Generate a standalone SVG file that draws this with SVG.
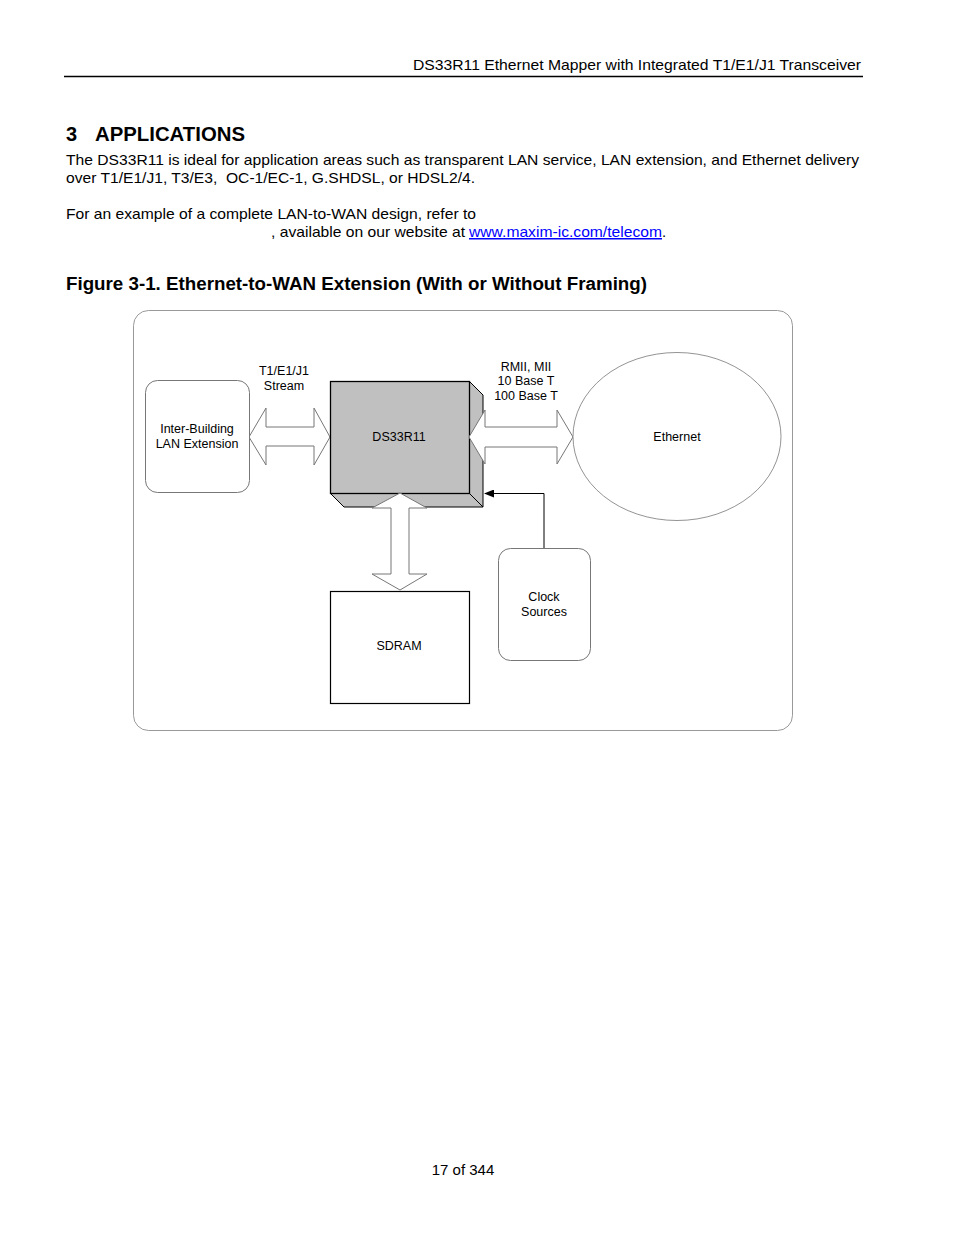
<svg xmlns="http://www.w3.org/2000/svg" width="954" height="1235" viewBox="0 0 954 1235">
<style>
.pg{font-family:"Liberation Sans",Arial,sans-serif;fill:#000}
.lb{font-family:"Liberation Sans",Arial,sans-serif;font-size:12.5px;fill:#000;text-anchor:middle}
.rnd{fill:#fff;stroke:#777;stroke-width:1}
.arw{fill:#fff;stroke:#777;stroke-width:1}
</style>
<defs>
<marker id="ah" markerWidth="10" markerHeight="8" refX="9" refY="4" orient="auto" markerUnits="userSpaceOnUse">
<path d="M0,0 L10,4 L0,8 Z" fill="#000"/>
</marker>
</defs>
<rect width="954" height="1235" fill="#fff"/>
<text class="pg" x="413" y="70" font-size="15" textLength="448" lengthAdjust="spacingAndGlyphs">DS33R11 Ethernet Mapper with Integrated T1/E1/J1 Transceiver</text>
<line x1="64" y1="76.5" x2="863" y2="76.5" stroke="#000" stroke-width="1.5"/>
<text class="pg" x="66" y="141" font-size="20" font-weight="bold">3</text>
<text class="pg" x="95" y="141" font-size="20" font-weight="bold" textLength="150" lengthAdjust="spacingAndGlyphs">APPLICATIONS</text>
<text class="pg" x="66" y="165" font-size="15" textLength="793" lengthAdjust="spacingAndGlyphs">The DS33R11 is ideal for application areas such as transparent LAN service, LAN extension, and Ethernet delivery</text>
<text class="pg" x="66" y="183" font-size="15" xml:space="preserve" textLength="409" lengthAdjust="spacingAndGlyphs">over T1/E1/J1, T3/E3,  OC-1/EC-1, G.SHDSL, or HDSL2/4.</text>
<text class="pg" x="66" y="219" font-size="15" textLength="410" lengthAdjust="spacingAndGlyphs">For an example of a complete LAN-to-WAN design, refer to</text>
<text class="pg" x="271" y="237" font-size="15" textLength="194" lengthAdjust="spacingAndGlyphs">, available on our website at</text>
<text class="pg" x="469" y="237" font-size="15" fill="#00f" style="fill:#00f" text-decoration="underline" textLength="193" lengthAdjust="spacingAndGlyphs">www.maxim-ic.com/telecom</text>
<text class="pg" x="662" y="237" font-size="15">.</text>
<text class="pg" x="66" y="290" font-size="18" font-weight="bold" textLength="581" lengthAdjust="spacingAndGlyphs">Figure 3-1. Ethernet-to-WAN Extension (With or Without Framing)</text>
<text class="pg" x="463" y="1175" font-size="15" text-anchor="middle">17 of 344</text>

<rect x="133.5" y="310.5" width="659" height="420" rx="15" ry="15" fill="none" stroke="#999" stroke-width="1"/>

<g id="connectors">
<path class="arw" d="M249,437 L266,408 L266,427 L314,427 L314,408 L330,437 L314,465 L314,446 L266,446 L266,465 Z"/>
<path d="M544,548 L544,493.5 L485,493.5" fill="none" stroke="#000" stroke-width="1" marker-end="url(#ah)"/>
<text class="lb" x="284" y="374.5">T1/E1/J1</text>
<text class="lb" x="284" y="389.5">Stream</text>
<text class="lb" x="526" y="371">RMII, MII</text>
<text class="lb" x="526" y="385">10 Base T</text>
<text class="lb" x="526" y="400">100 Base T</text>
</g>

<g id="inter-building">
<rect class="rnd" x="145.5" y="380.5" width="104" height="112" rx="12" ry="12"/>
<text class="lb" x="197" y="433">Inter-Building</text>
<text class="lb" x="197" y="448">LAN Extension</text>
</g>

<g id="ds33r11">
<polygon points="469,381 483,395 483,507 469,493" fill="#c0c0c0" stroke="#000" stroke-width="1"/>
<polygon points="330,493 344,507 483,507 469,493" fill="#c0c0c0" stroke="#000" stroke-width="1"/>
<rect x="330.5" y="381.5" width="139" height="112" fill="#c0c0c0" stroke="#000" stroke-width="1.3"/>
<text class="lb" x="399" y="440.5">DS33R11</text>
</g>

<g id="eth-arrow">
<path class="arw" d="M469,437 L485,410 L485,427 L557,427 L557,410 L573,437 L557,464 L557,447 L485,447 L485,464 Z"/>
</g>
<g id="sdram-arrow">
<path class="arw" d="M400,493 L427,508 L409,508 L409,574 L427,574 L400,590 L372,574 L391,574 L391,508 L372,508 Z"/>
</g>

<g id="ethernet">
<ellipse cx="677" cy="436.5" rx="104" ry="84" fill="#fff" stroke="#777" stroke-width="0.8"/>
<text class="lb" x="677" y="440.5">Ethernet</text>
</g>

<g id="sdram">
<rect x="330.5" y="591.5" width="139" height="112" fill="#fff" stroke="#000" stroke-width="1.2"/>
<text class="lb" x="399" y="650">SDRAM</text>
</g>

<g id="clock">
<rect class="rnd" x="498.5" y="548.5" width="92" height="112" rx="12" ry="12"/>
<text class="lb" x="544" y="601">Clock</text>
<text class="lb" x="544" y="616">Sources</text>
</g>
</svg>
